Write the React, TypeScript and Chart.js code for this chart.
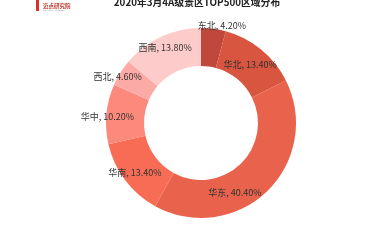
import React, { useEffect, useRef } from "react";
import { Chart, registerables } from "chart.js";

Chart.register(...registerables);

const regions = ["东北", "华北", "华东", "华南", "华中", "西北", "西南"];
const shares = [4.2, 13.4, 40.4, 13.4, 10.2, 4.6, 13.8];
const colors = ["#c0473b", "#d8553f", "#e8624c", "#f86c56", "#fb8a7c", "#fbaaa6", "#fdcbca"];
const titleText = "2020年3月4A级景区TOP500区域分布";
const logoText = "迈点研究院";

// label placement: radial fraction within ring (0=inner,1=outer) and pixel nudges
const labelRadial = [1.1, 0.5, 0.7, 0.55, 0.55, 0.9, 0.5];
const labelNudge: [number, number][] = [[8, 1], [1, 0], [-24, 9], [-4, 3], [-16, 1], [-6, 2], [-4, -6]];

const labelPlugin = {
  id: "sliceLabels",
  afterDatasetsDraw(chart: any) {
    const ctx = chart.ctx;
    const meta = chart.getDatasetMeta(0);
    ctx.save();
    ctx.font = "9px 'Noto Sans CJK SC', sans-serif";
    ctx.fillStyle = "#333333";
    ctx.textAlign = "center";
    ctx.textBaseline = "middle";
    meta.data.forEach((arc: any, i: number) => {
      const p = arc.getProps(["x", "y", "startAngle", "endAngle", "innerRadius", "outerRadius"], true);
      const a = (p.startAngle + p.endAngle) / 2;
      const r = p.innerRadius + (p.outerRadius - p.innerRadius) * labelRadial[i];
      const x = p.x + Math.cos(a) * r + labelNudge[i][0];
      const y = p.y + Math.sin(a) * r + labelNudge[i][1];
      ctx.fillText(`${regions[i]}, ${shares[i].toFixed(2)}%`, x, y);
    });
    ctx.restore();
  },
};

const headerPlugin = {
  id: "header",
  afterDraw(chart: any) {
    const ctx = chart.ctx;
    ctx.save();
    ctx.font = "bold 9.8px 'Noto Sans CJK SC', sans-serif";
    ctx.fillStyle = "#222222";
    ctx.textAlign = "center";
    ctx.textBaseline = "middle";
    ctx.fillText(titleText, 197, 2);
    // logo
    ctx.fillStyle = "#d9312a";
    ctx.fillRect(36, 0, 3, 11);
    ctx.font = "bold 5.5px 'Noto Sans CJK SC', sans-serif";
    ctx.fillStyle = "#c0392b";
    ctx.textAlign = "left";
    ctx.fillText(logoText, 43, 6);
    ctx.font = "2.5px sans-serif";
    ctx.fillStyle = "#999999";
    ctx.fillText("MEADIN ACADEMY", 43, 10);
    ctx.restore();
  },
};

export default function App() {
  const ref = useRef<HTMLCanvasElement>(null);
  useEffect(() => {
    if (!ref.current) return;
    const chart = new Chart(ref.current, {
      type: "doughnut",
      data: {
        labels: regions,
        datasets: [
          {
            data: shares,
            backgroundColor: colors,
            borderWidth: 0,
          },
        ],
      },
      options: {
        animation: false,
        responsive: false,
        cutout: "60%",
        layout: { padding: { top: 28, bottom: 32, left: 106, right: 79 } },
        plugins: {
          legend: { display: false },
          tooltip: { enabled: false },
          title: { display: false },
        },
      },
      plugins: [labelPlugin, headerPlugin],
    });
    return () => chart.destroy();
  }, []);
  return (
    <div style={{ position: "fixed", left: 0, top: 0, width: 375, height: 250, background: "#fff" }}>
      <canvas ref={ref} width={375} height={250} style={{ display: "block" }} />
    </div>
  );
}
